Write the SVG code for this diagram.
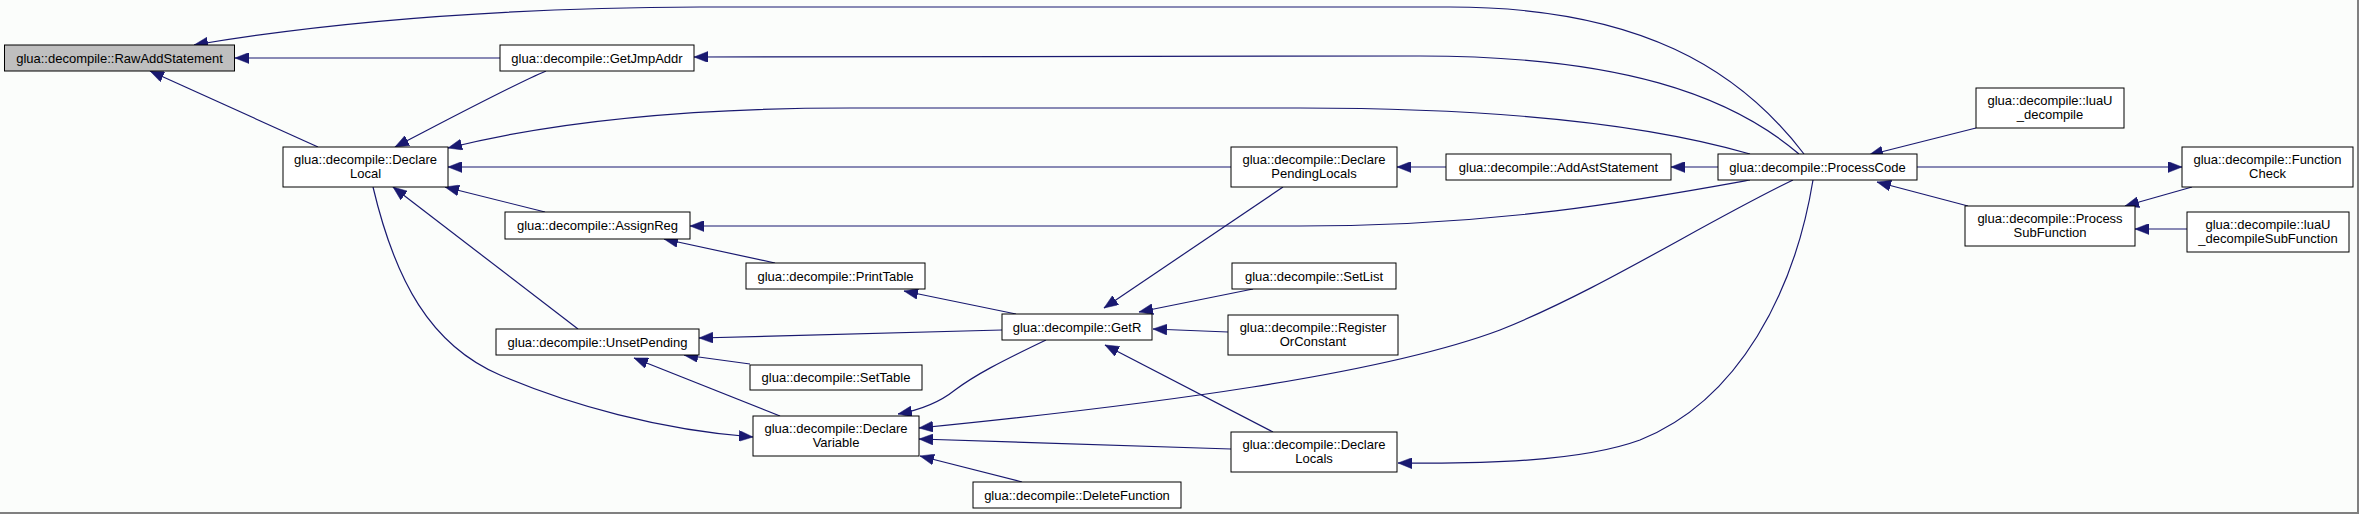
<svg xmlns="http://www.w3.org/2000/svg" width="2359" height="514" viewBox="0 0 2359 514">
<style>
.n rect{fill:#ffffff;stroke:#000000;stroke-width:1}
.n.g rect{fill:#bfbfbf}
.n text{font-family:"Liberation Sans",Arial,sans-serif;font-size:13px;fill:#000000;text-anchor:middle}
.e path{fill:none;stroke:#191970;stroke-width:1.2;marker-end:url(#ah)}
</style>
<defs>
<marker id="ah" markerUnits="userSpaceOnUse" markerWidth="15" markerHeight="11" refX="14" refY="5.5" orient="auto">
<path d="M0,0 L14,5.5 L0,11 z" fill="#191970" stroke="#191970" stroke-width="0.5"/>
</marker>
</defs>
<rect x="0" y="0" width="2359" height="514" fill="#fbfdfb"/>
<line x1="2358" y1="0" x2="2358" y2="514" stroke="#808080" stroke-width="2"/>
<line x1="0" y1="513" x2="2359" y2="513" stroke="#808080" stroke-width="2"/>
<g id="edges" class="e">
<path d="M1804,154 C1740,70 1640,7 1450,7 L700,7 C500,8 330,22 194,45"/>
<path d="M500,58 L235,58"/>
<path d="M318,147 L150,71"/>
<path d="M546,71 C515,84 470,108 395,147"/>
<path d="M1750,154 C1650,125 1500,108 1300,108 L850,108 C700,108 560,120 448,148"/>
<path d="M1231,167 L448,167"/>
<path d="M545,212 L445,187"/>
<path d="M578,329 L393,187"/>
<path d="M373,187 C395,280 430,345 500,375 C570,405 660,430 753,437"/>
<path d="M1718,167 L1671,167"/>
<path d="M1446,167 L1397,167"/>
<path d="M1799,154 C1730,95 1620,56 1420,56 L694,57"/>
<path d="M1750,180 C1640,200 1500,226 1300,226 L690,226"/>
<path d="M775,263 L664,239"/>
<path d="M1016,314 L904,291"/>
<path d="M1002,330 L699,338"/>
<path d="M750,364 L684,355"/>
<path d="M780,416 L634,358"/>
<path d="M1283,187 L1104,308"/>
<path d="M1253,289 L1139,312"/>
<path d="M1228,332 L1153,329"/>
<path d="M1273,432 L1105,345"/>
<path d="M1046,340 C1000,362 975,375 955,390 C940,402 920,410 898,414"/>
<path d="M1793,180 C1700,225 1600,290 1500,330 C1380,375 1150,405 919,428"/>
<path d="M1231,449 L919,439"/>
<path d="M1022,482 L920,456"/>
<path d="M1813,180 C1795,290 1740,400 1640,440 C1580,462 1480,464 1398,463"/>
<path d="M1976,128 L1869,155"/>
<path d="M1917,167 L2182,167"/>
<path d="M1968,206 L1877,182"/>
<path d="M2192,187 L2125,206"/>
<path d="M2187,229 L2135,229"/>
</g>
<g id="RawAddStatement" class="n g"><rect x="4.5" y="45" width="230" height="26"/><text x="119.5" y="62.5">glua::decompile::RawAddStatement</text></g>
<g id="GetJmpAddr" class="n"><rect x="500" y="45" width="194" height="26"/><text x="597" y="62.5">glua::decompile::GetJmpAddr</text></g>
<g id="DeclareLocal" class="n"><rect x="283" y="147" width="165" height="40"/><text x="365.5" y="163.5">glua::decompile::Declare</text><text x="365.5" y="177.5">Local</text></g>
<g id="AssignReg" class="n"><rect x="505" y="212" width="185" height="27"/><text x="597.5" y="230">glua::decompile::AssignReg</text></g>
<g id="UnsetPending" class="n"><rect x="496" y="329" width="203" height="26"/><text x="597.5" y="346.5">glua::decompile::UnsetPending</text></g>
<g id="PrintTable" class="n"><rect x="746" y="263" width="179" height="26"/><text x="835.5" y="280.5">glua::decompile::PrintTable</text></g>
<g id="SetTable" class="n"><rect x="750" y="365" width="172" height="25"/><text x="836" y="382">glua::decompile::SetTable</text></g>
<g id="DeclareVariable" class="n"><rect x="753" y="416" width="166" height="40"/><text x="836" y="432.5">glua::decompile::Declare</text><text x="836" y="446.5">Variable</text></g>
<g id="GetR" class="n"><rect x="1002" y="314" width="150" height="26"/><text x="1077" y="331.5">glua::decompile::GetR</text></g>
<g id="DeleteFunction" class="n"><rect x="973" y="482" width="208" height="26"/><text x="1077" y="499.5">glua::decompile::DeleteFunction</text></g>
<g id="DeclarePendingLocals" class="n"><rect x="1231" y="147" width="166" height="40"/><text x="1314" y="163.5">glua::decompile::Declare</text><text x="1314" y="177.5">PendingLocals</text></g>
<g id="SetList" class="n"><rect x="1232" y="263" width="164" height="26"/><text x="1314" y="280.5">glua::decompile::SetList</text></g>
<g id="RegisterOrConstant" class="n"><rect x="1228" y="315" width="170" height="40"/><text x="1313" y="331.5">glua::decompile::Register</text><text x="1313" y="345.5">OrConstant</text></g>
<g id="DeclareLocals" class="n"><rect x="1231" y="432" width="166" height="40"/><text x="1314" y="448.5">glua::decompile::Declare</text><text x="1314" y="462.5">Locals</text></g>
<g id="AddAstStatement" class="n"><rect x="1446" y="154" width="225" height="26"/><text x="1558.5" y="171.5">glua::decompile::AddAstStatement</text></g>
<g id="ProcessCode" class="n"><rect x="1718" y="154" width="199" height="26"/><text x="1817.5" y="171.5">glua::decompile::ProcessCode</text></g>
<g id="luaU_decompile" class="n"><rect x="1976" y="88" width="148" height="40"/><text x="2050" y="104.5">glua::decompile::luaU</text><text x="2050" y="118.5">_decompile</text></g>
<g id="FunctionCheck" class="n"><rect x="2182" y="147" width="171" height="40"/><text x="2267.5" y="163.5">glua::decompile::Function</text><text x="2267.5" y="177.5">Check</text></g>
<g id="ProcessSubFunction" class="n"><rect x="1965" y="206" width="170" height="40"/><text x="2050" y="222.5">glua::decompile::Process</text><text x="2050" y="236.5">SubFunction</text></g>
<g id="luaU_decompileSubFunction" class="n"><rect x="2187" y="212" width="162" height="40"/><text x="2268" y="228.5">glua::decompile::luaU</text><text x="2268" y="242.5">_decompileSubFunction</text></g>
</svg>
